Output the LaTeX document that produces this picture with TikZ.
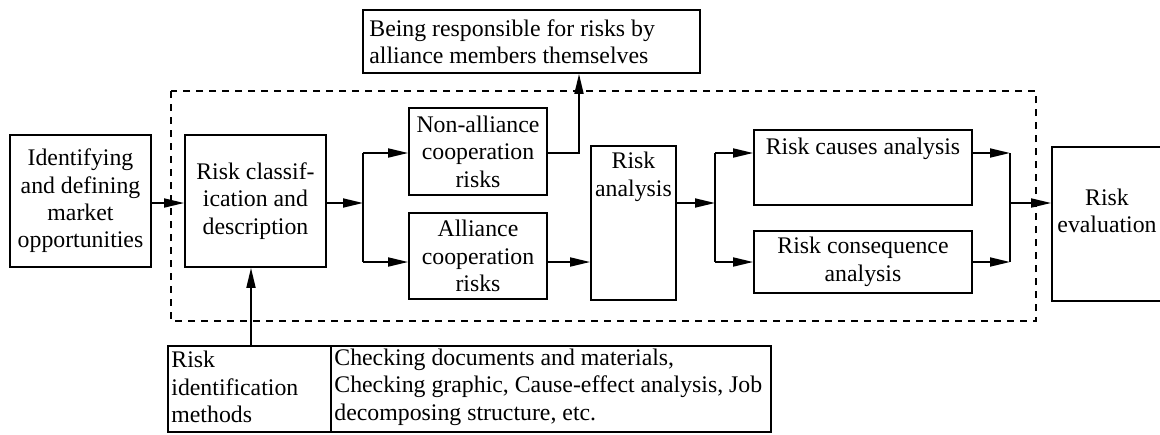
\documentclass[tikz,border=0pt]{standalone}
\usepackage{fontspec}
\setmainfont{Liberation Serif}
\usetikzlibrary{arrows.meta}
\begin{document}
\begin{tikzpicture}[x=0.5pt,y=-0.5pt,
  font=\rmfamily\fontsize{11.9}{13.7}\selectfont,
  bx/.style={draw,line width=0.9pt,inner sep=0pt,align=center},
  txt/.style={inner sep=0pt,align=center},
  ltxt/.style={inner sep=0pt,align=left,anchor=west},
  conn/.style={line width=0.9pt},
  arr/.style={line width=0.9pt,-{Triangle[length=10pt,width=4.5pt]}},
  dsh/.style={line width=0.9pt,dash pattern=on 3.5pt off 3pt}]
\clip (0,0) rectangle (1160,434);
% boxes
\node[bx,minimum width=141*0.5pt,minimum height=132*0.5pt] (A) at (80.5,201) {Identifying\\and defining\\market\\opportunities};
\node[bx,minimum width=141*0.5pt,minimum height=132*0.5pt] (B) at (255.5,201) {Risk classif-\\ication and\\description};
\node[bx,minimum width=138*0.5pt,minimum height=87*0.5pt] (C) at (478,151.5) {Non-alliance\\cooperation\\risks};
\node[bx,minimum width=138*0.5pt,minimum height=86*0.5pt] (D) at (478,256) {Alliance\\cooperation\\risks};
\node[bx,minimum width=337*0.5pt,minimum height=63*0.5pt] (E) at (531.5,41.5) {};
\node[ltxt] (Et) at (369,41.5) {Being responsible for risks by\\alliance members themselves};
\node[bx,minimum width=85*0.5pt,minimum height=154*0.5pt] (F) at (633.5,223) {};
\node[txt,anchor=north] (Ft) at (633.5,152) {Risk\\analysis};
\node[bx,minimum width=218*0.5pt,minimum height=75*0.5pt] (G) at (863,167.5) {};
\node[txt] (Gt) at (863,149) {Risk causes analysis};
\node[bx,minimum width=218*0.5pt,minimum height=62*0.5pt] (H) at (863,262) {Risk consequence\\analysis};
\node[bx,minimum width=112*0.5pt,minimum height=154*0.5pt] (I) at (1108,224) {};
\node[txt] (It) at (1107,211) {Risk\\evaluation};
\node[bx,minimum width=163*0.5pt,minimum height=86*0.5pt] (J) at (249.5,389) {};
\node[ltxt] (Jt) at (171,387) {Risk\\identification\\methods};
\node[bx,minimum width=440*0.5pt,minimum height=86*0.5pt] (K) at (551,389) {};
\node[ltxt] (Kt) at (334,387) {Checking documents and materials,\\Checking graphic, Cause-effect analysis, Job\\decomposing structure, etc.};
% dashed frame
\draw[dsh] (171,91) rectangle (1036,321);
% junction coordinates
\coordinate (j1) at (363,203);
\coordinate (j1t) at (363,153);
\coordinate (j1b) at (363,262);
\coordinate (c1) at (579,153);
\coordinate (j2) at (715,203);
\coordinate (j2t) at (715,153);
\coordinate (j2b) at (715,262);
\coordinate (j3) at (1010,203);
\coordinate (j3t) at (1010,153);
\coordinate (j3b) at (1010,262);
% connectors
\draw[arr] (A.east |- j1) -- (B.west |- j1);
\draw[arr] (B.east |- j1) -- (j1);
\draw[conn] (j1t) -- (j1b);
\draw[arr] (j1t) -- (C.west |- j1t);
\draw[arr] (j1b) -- (D.west |- j1b);
\draw[arr] (C.east |- c1) -- (c1) -- (E.south -| c1);
\draw[arr] (D.east |- j1b) -- (F.west |- j1b);
\draw[arr] (F.east |- j2) -- (j2);
\draw[conn] (j2t) -- (j2b);
\draw[arr] (j2t) -- (G.west |- j2t);
\draw[arr] (j2b) -- (H.west |- j2b);
\draw[arr] (G.east |- j3t) -- (j3t);
\draw[arr] (H.east |- j3b) -- (j3b);
\draw[conn] (j3t) -- (j3b);
\draw[arr] (j3) -- (I.west |- j3);
\draw[arr] (J.north -| 251,0) -- (B.south -| 251,0);
\end{tikzpicture}
\end{document}
